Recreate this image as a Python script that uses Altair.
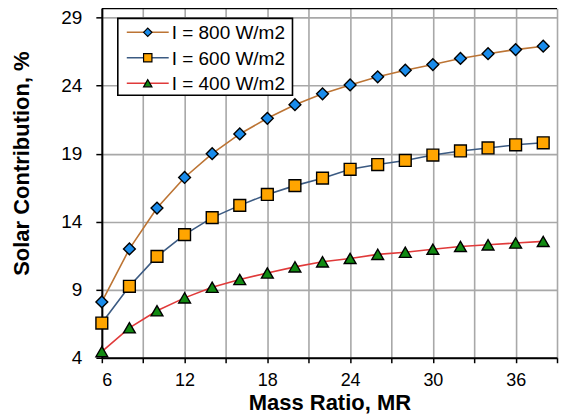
import altair as alt
import pandas as pd

mass_ratio = [6, 8, 10, 12, 14, 16, 18, 20, 22, 24, 26, 28, 30, 32, 34, 36, 38]
sc_800 = [8.1, 12.0, 15.0, 17.25, 19.0, 20.45, 21.6, 22.6, 23.4, 24.05, 24.65, 25.13, 25.55, 26.0, 26.35, 26.65, 26.9]
sc_600 = [6.55, 9.25, 11.45, 13.05, 14.3, 15.2, 16.0, 16.65, 17.2, 17.85, 18.2, 18.5, 18.9, 19.2, 19.42, 19.65, 19.8]
sc_400 = [4.45, 6.2, 7.45, 8.4, 9.18, 9.75, 10.23, 10.68, 11.05, 11.3, 11.6, 11.75, 11.98, 12.18, 12.3, 12.43, 12.55]
series_names = ["I = 800 W/m2", "I = 600 W/m2", "I = 400 W/m2"]
line_colors = ["#BC7434", "#3B5A82", "#E03A3A"]
marker_fills = ["#1A8CEB", "#FFA500", "#128A12"]
marker_shapes = ["diamond", "square", "triangle-up"]

x_ticks = list(range(6, 40, 3))
y_ticks = [4 + 2.5 * i for i in range(11)]

FONT = "Liberation Sans"
W, H = 456, 350

rows = []
for name, vals in zip(series_names, [sc_800, sc_600, sc_400]):
    for m, v in zip(mass_ratio, vals):
        rows.append({"MR": m, "SC": v, "series": name})
df = pd.DataFrame(rows)

xs = alt.Scale(domain=[6, 39], nice=False, zero=False)
ys = alt.Scale(domain=[4, 29.68], nice=False, zero=False)

x_axis = alt.Axis(values=x_ticks, labelExpr="datum.value % 6 == 0 ? datum.label : ''",
                  title="Mass Ratio, MR", grid=True, tickSize=5, labelPadding=9,
                  labelFontSize=18, titleY=35, titleBaseline="top")
y_axis = alt.Axis(values=y_ticks, labelExpr="(datum.value - 4) % 5 == 0 ? datum.label : ''",
                  title="Solar Contribution, %", grid=True, tickSize=6, labelPadding=14,
                  titleX=-68, titleY=155, titleAngle=-90, titleBaseline="bottom")

layers = []
for i, name in enumerate(series_names):
    sub = alt.Chart(df).transform_filter(alt.datum.series == name)
    line = sub.mark_line(color=line_colors[i], strokeWidth=1.6).encode(
        x=alt.X("MR:Q", scale=xs, axis=x_axis),
        y=alt.Y("SC:Q", scale=ys, axis=y_axis),
    )
    pts = sub.mark_point(shape=marker_shapes[i], filled=True, fill=marker_fills[i],
                         stroke="black", strokeWidth=1.4, size=140, opacity=1).encode(
        x=alt.X("MR:Q", scale=xs),
        y=alt.Y("SC:Q", scale=ys),
    )
    layers += [line, pts]

# top frame line
frame_top = alt.Chart(pd.DataFrame({"a": [0]})).mark_rule(color="black", strokeWidth=2).encode(
    x=alt.value(0), x2=alt.value(W), y=alt.value(0))

# legend
leg_rows_y = [24, 49.5, 75]
leg_box = alt.Chart(pd.DataFrame({"a": [0]})).mark_rect(
    fill="white", stroke="black", strokeWidth=1.6).encode(
    x=alt.value(16), x2=alt.value(191), y=alt.value(10), y2=alt.value(87))
leg_layers = [leg_box]
for i, name in enumerate(series_names):
    ly = leg_rows_y[i]
    leg_layers.append(alt.Chart(pd.DataFrame({"a": [0]})).mark_rule(
        color=line_colors[i], strokeWidth=1.6).encode(
        x=alt.value(25), x2=alt.value(67), y=alt.value(ly)))
    leg_layers.append(alt.Chart(pd.DataFrame({"a": [0]})).mark_point(
        shape=marker_shapes[i], filled=True, fill=marker_fills[i], stroke="black",
        strokeWidth=1.2, size=70, opacity=1).encode(
        x=alt.value(46), y=alt.value(ly)))
    leg_layers.append(alt.Chart(pd.DataFrame({"a": [0]})).mark_text(
        text=name, align="left", baseline="middle", font=FONT, fontSize=19,
        color="black").encode(x=alt.value(70), y=alt.value(ly + 1)))

chart = alt.layer(*layers, frame_top, *leg_layers).properties(
    width=W, height=H,
    autosize=alt.AutoSizeParams(type="none"),
    padding={"left": 94, "top": 0, "right": 6, "bottom": 56},
).configure_view(stroke=None).configure_axis(
    domainColor="black", domainWidth=2, tickColor="black", tickWidth=1.5,
    gridColor="#A8A8A8", gridWidth=1.6, gridOpacity=1,
    labelFont=FONT, labelFontSize=19, labelColor="black",
    titleFont=FONT, titleFontSize=22, titleFontWeight="bold", titleColor="black",
).configure_axisX(labelAngle=0)

chart.save("out.html", embed_options={"renderer": "svg", "actions": False})
